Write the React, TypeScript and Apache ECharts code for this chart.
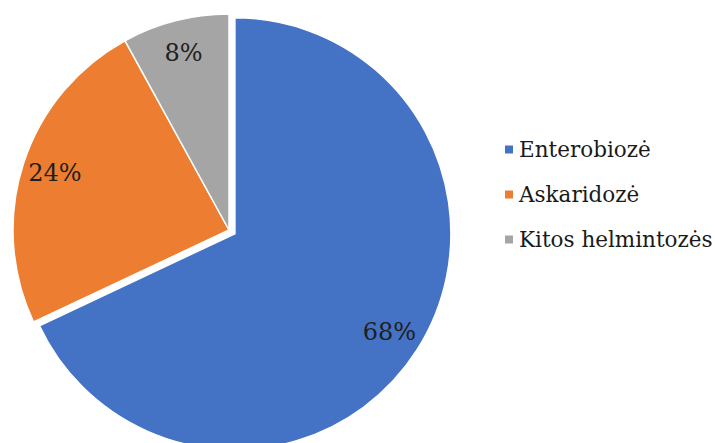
import React, { useEffect, useRef } from "react";
import * as echarts from "echarts";

const categories = ["Enterobiozė", "Askaridozė", "Kitos helmintozės"];
const values = [68, 24, 8];
const colors = ["#4472C4", "#ED7D31", "#A5A5A5"];
const explodedIndex = 0;
const serif = "DejaVu Serif";

export default function App() {
  const ref = useRef<HTMLDivElement>(null);
  useEffect(() => {
    if (!ref.current) return;
    const chart = echarts.init(ref.current, undefined, { renderer: "svg" });
    const data = categories.map((name, i) => ({
      name,
      value: values[i],
      selected: i === explodedIndex,
      itemStyle: { color: colors[i] },
    }));
    const center = [229, 230];
    chart.setOption({
      animation: false,
      backgroundColor: "#ffffff",
      legend: {
        orient: "vertical",
        left: 503,
        top: 137,
        padding: 0,
        itemWidth: 10,
        itemHeight: 10,
        itemGap: 20,
        icon: "rect",
        data: categories,
        textStyle: {
          fontFamily: serif,
          fontSize: 21.5,
          lineHeight: 25,
          color: "#1a1a1a",
        },
      },
      series: [
        {
          type: "pie",
          center,
          radius: [0, 216],
          startAngle: 90,
          clockwise: true,
          selectedMode: "single",
          selectedOffset: 7,
          silent: true,
          label: { show: false },
          labelLine: { show: false },
          itemStyle: { borderColor: "#ffffff", borderWidth: 1.5 },
          emphasis: { disabled: true },
          data,
        },
        {
          type: "pie",
          center,
          radius: [144, 216],
          startAngle: 90,
          clockwise: true,
          selectedMode: "single",
          selectedOffset: 7,
          silent: true,
          itemStyle: { color: "transparent", borderWidth: 0 },
          emphasis: { disabled: true },
          label: {
            show: true,
            position: "inside",
            formatter: "{c}%",
            fontFamily: serif,
            fontSize: 24,
            color: "#1f1f1f",
          },
          labelLine: { show: false },
          data: categories.map((name, i) => ({
            name,
            value: values[i],
            selected: i === explodedIndex,
            itemStyle: { color: "transparent" },
          })),
        },
      ],
    });
    return () => chart.dispose();
  }, []);
  return (
    <div
      ref={ref}
      style={{ position: "absolute", left: 0, top: 0, width: 715, height: 443 }}
    />
  );
}
